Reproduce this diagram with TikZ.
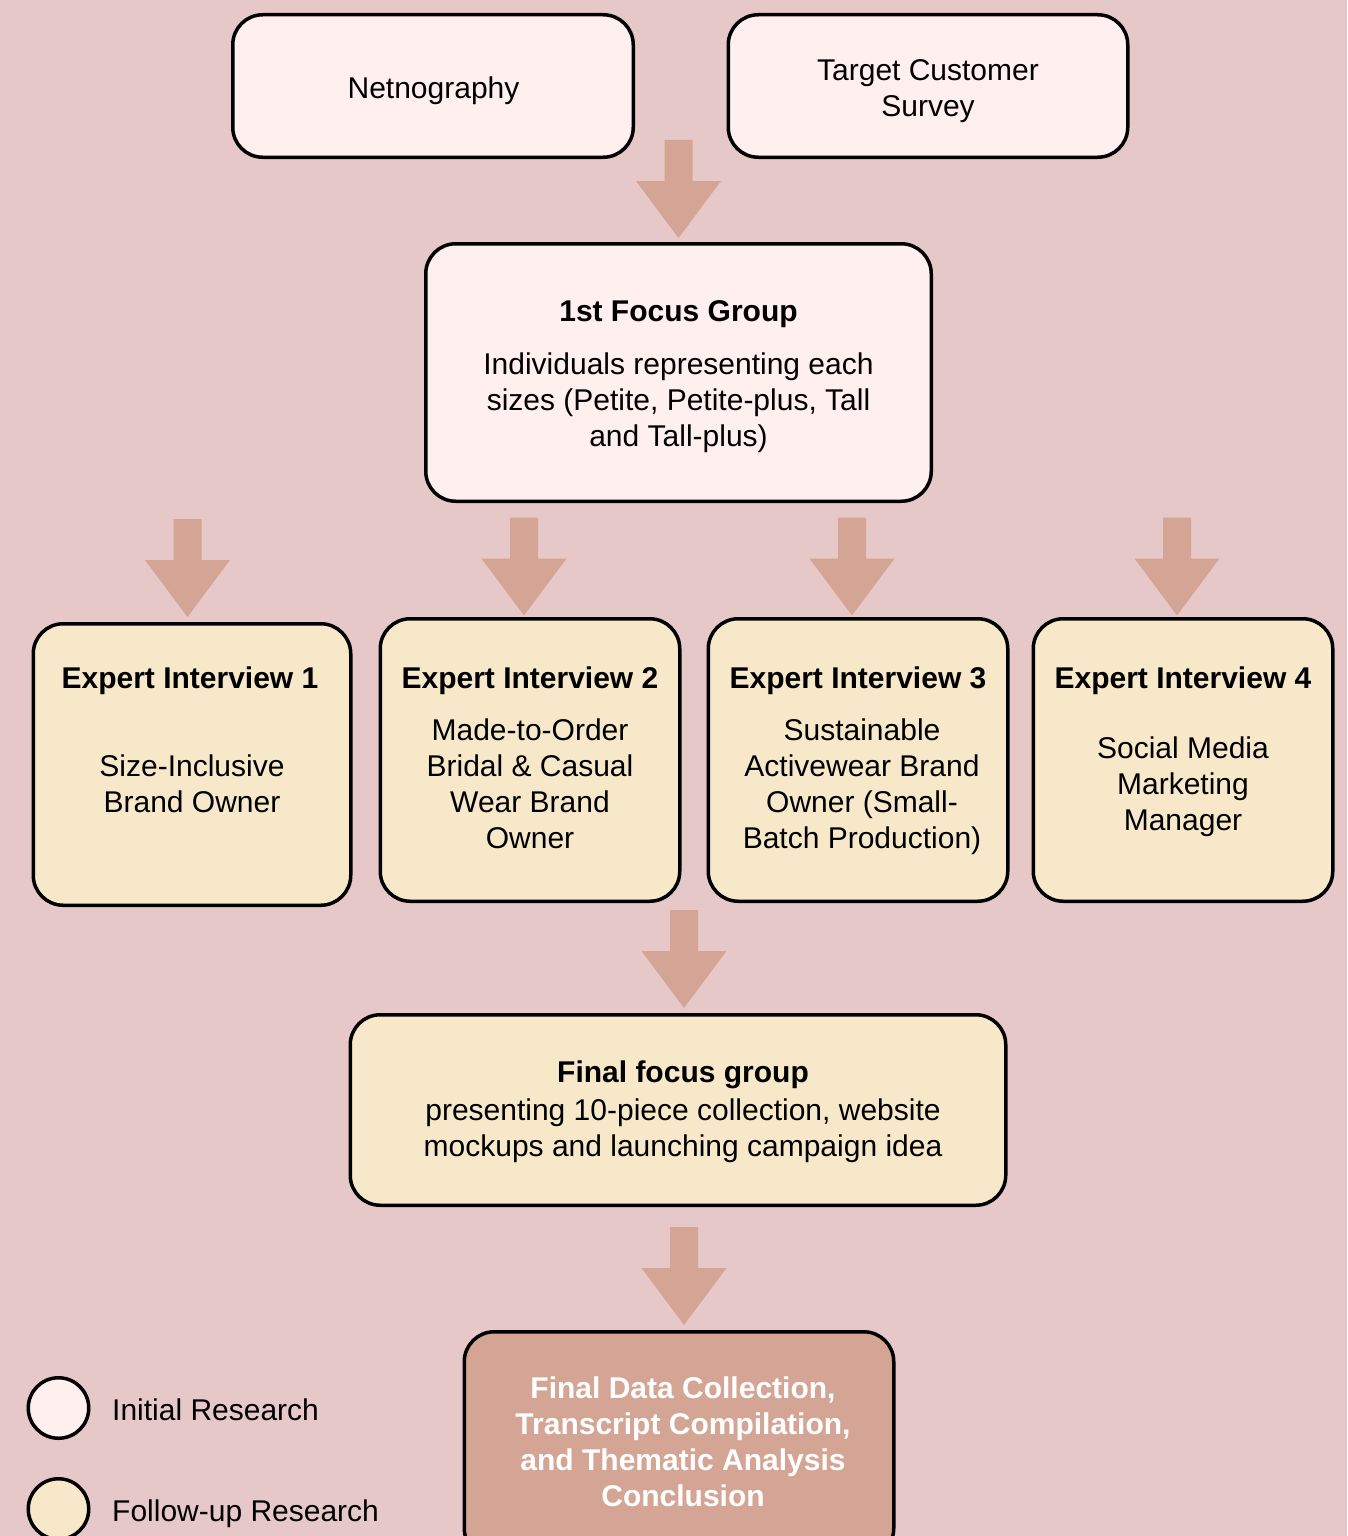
\documentclass[tikz,border=0pt]{standalone}
\usepackage{fontspec}
\setmainfont{Liberation Sans}

\definecolor{bgpink}{HTML}{E6C8C9}
\definecolor{initfill}{HTML}{FFEFEF}
\definecolor{followfill}{HTML}{F7E8CA}
\definecolor{arrowfill}{HTML}{D4A594}

% centred block of lines whose baseline is that of its first line
\newcommand\stackc[1]{\begin{tabular}[t]{@{}c@{}}#1\end{tabular}}

\tikzset{
  box/.style={draw=black, line width=3.5pt, rounded corners=30pt, inner sep=0pt},
  initbox/.style={box, fill=initfill},
  followbox/.style={box, fill=followfill},
  finalbox/.style={box, fill=arrowfill},
  keydot/.style={circle, draw=black, line width=3.5pt, minimum size=60.5pt, inner sep=0pt},
  txt/.style={anchor=base, inner sep=0pt, font=\fontsize{30}{36}\selectfont},
  keytxt/.style={txt, anchor=base west},
  blockarrow/.pic={
    \fill[arrowfill] (0,0) -- (-42.5,-57) -- (-14,-57) -- (-14,-98)
      -- (14,-98) -- (14,-57) -- (42.5,-57) -- cycle;
  }
}

\begin{document}
\begin{tikzpicture}[x=1pt, y=-1pt]
  \clip (0,0) rectangle (1347,1536);
  \fill[bgpink] (0,0) rectangle (1347,1536);

  % initial research
  \node[initbox, minimum width=400.5pt, minimum height=142.5pt] (net) at (433,86) {};
  \node[initbox, minimum width=399.5pt, minimum height=142.5pt] (tcs) at (928,86) {};
  \node[initbox, minimum width=505.5pt, minimum height=257.5pt] (fg1) at (678.5,372.5) {};

  \node[txt] (net-t) at (433.5,98.5) {Netnography};
  \node[txt] (tcs-t) at (928,81) {\stackc{Target Customer\\Survey}};
  \node[txt] (fg1-h) at (678.5,321) {\bfseries 1st Focus Group};
  \node[txt] (fg1-t) at (678.5,374) {\stackc{Individuals representing each\\sizes (Petite, Petite-plus, Tall\\and Tall-plus)}};

  % expert interviews
  \node[followbox, minimum width=317.5pt, minimum height=281.5pt] (ex1) at (192,764.5) {};
  \node[followbox, minimum width=299.5pt, minimum height=282.5pt] (ex2) at (530,760) {};
  \node[followbox, minimum width=299.5pt, minimum height=282.5pt] (ex3) at (858,760) {};
  \node[followbox, minimum width=299.5pt, minimum height=282.5pt] (ex4) at (1183,760) {};

  \node[txt] (ex1-h) at (190,688) {\bfseries Expert Interview 1};
  \node[txt] (ex2-h) at (530,688) {\bfseries Expert Interview 2};
  \node[txt] (ex3-h) at (858,688) {\bfseries Expert Interview 3};
  \node[txt] (ex4-h) at (1183,688) {\bfseries Expert Interview 4};

  \node[txt] (ex1-t) at (192,776) {\stackc{Size-Inclusive\\Brand Owner}};
  \node[txt] (ex2-t) at (530,740) {\stackc{Made-to-Order\\Bridal \& Casual\\Wear Brand\\Owner}};
  \node[txt] (ex3-t) at (862,740) {\stackc{Sustainable\\Activewear Brand\\Owner (Small-\\Batch Production)}};
  \node[txt] (ex4-t) at (1183,758) {\stackc{Social Media\\Marketing\\Manager}};

  % final focus group and conclusion
  \node[followbox, minimum width=655.5pt, minimum height=190.5pt] (ffg) at (678,1110) {};
  \node[txt] (ffg-h) at (683,1082) {\bfseries Final focus group};
  \node[txt] (ffg-t) at (683,1120) {\stackc{presenting 10-piece collection, website\\mockups and launching campaign idea}};

  \node[finalbox, minimum width=429.5pt, minimum height=226.5pt] (fdc) at (679,1445) {};
  \node[txt, text=white] (fdc-t) at (683,1398) {\bfseries\stackc{Final Data Collection,\\Transcript Compilation,\\and Thematic Analysis\\Conclusion}};

  % block arrows
  \pic at ([yshift=4pt]fg1.north) {blockarrow};
  \pic at ([xshift=-4.5pt,yshift=5pt]ex1.north) {blockarrow};
  \pic at ([xshift=-6pt,yshift=1.5pt]ex2.north) {blockarrow};
  \pic at ([xshift=-6pt,yshift=1.5pt]ex3.north) {blockarrow};
  \pic at ([xshift=-6pt,yshift=1.5pt]ex4.north) {blockarrow};
  \pic at ([xshift=6pt,yshift=5pt]ffg.north) {blockarrow};
  \pic at ([xshift=5pt,yshift=5pt]fdc.north) {blockarrow};

  % key
  \node[keydot, fill=initfill] (key1) at (58.5,1408) {};
  \node[keydot, fill=followfill] (key2) at (58.5,1509) {};
  \node[keytxt] (key1-t) at (112,1420) {Initial Research};
  \node[keytxt] (key2-t) at (112,1521) {Follow-up Research};
\end{tikzpicture}
\end{document}
